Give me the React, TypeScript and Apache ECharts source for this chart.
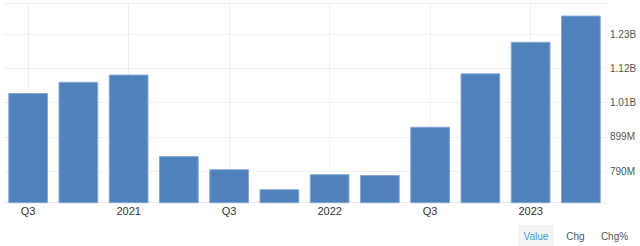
import React, { useEffect, useRef } from "react";
import * as echarts from "echarts";

const categories = ["Q3", "Q4", "2021", "Q2", "Q3", "Q4", "2022", "Q2", "Q3", "Q4", "2023", "Q2"];
const values = [1040, 1076, 1099, 838, 796, 732, 780, 777.5, 932, 1103, 1204, 1288];
const tickValues = [790, 899.5, 1009, 1118.5, 1228];
const tickLabels = ["790M", "899M", "1.01B", "1.12B", "1.23B"];
const buttons = ["Value", "Chg", "Chg%"];

export default function App() {
  const ref = useRef<HTMLDivElement>(null);
  useEffect(() => {
    if (!ref.current) return;
    const chart = echarts.init(ref.current, null, { renderer: "svg" });
    chart.setOption({
      animation: false,
      grid: { left: 3, right: 34, top: 3.5, bottom: 43.3, containLabel: false },
      xAxis: {
        type: "category",
        data: categories,
        boundaryGap: true,
        axisLine: { show: true, lineStyle: { color: "#e8e8e8" } },
        axisTick: { show: false },
        axisLabel: {
          interval: 1,
          color: "#333",
          fontSize: 11,
          fontFamily: "Liberation Sans, Arial, sans-serif",
          margin: 3,
        },
        splitLine: { show: true, interval: 1, alignWithLabel: true, lineStyle: { color: "#f0f0f0" } },
      },
      yAxis: {
        type: "value",
        position: "right",
        min: 688.8,
        max: 1326.6,
        axisLine: { show: false },
        axisTick: { show: false, customValues: [...tickValues, 1326.6] },
        axisLabel: {
          customValues: tickValues,
          color: "#555",
          fontSize: 10,
          fontFamily: "Liberation Sans, Arial, sans-serif",
          margin: 4,
          formatter: (v: number) => {
            const i = tickValues.findIndex((t) => Math.abs(t - v) < 0.01);
            return i >= 0 ? tickLabels[i] : "";
          },
        },
        splitLine: { show: true, lineStyle: { color: "#f0f0f0" } },
      },
      series: [
        {
          type: "bar",
          data: values,
          barCategoryGap: "21%",
          itemStyle: { color: "#4f81bd", borderColor: "#86a7d3", borderWidth: 1 },
        },
      ],
      graphic: [
        { type: "rect", shape: { x: 518, y: 225, width: 36, height: 21 }, style: { fill: "#f2f4f5" } },
        {
          type: "text", x: 536, y: 236,
          style: { text: buttons[0], fill: "#3d9be9", fontSize: 10, fontFamily: "Liberation Sans, Arial, sans-serif", align: "center", verticalAlign: "middle" },
        },
        {
          type: "text", x: 575.5, y: 236,
          style: { text: buttons[1], fill: "#555", fontSize: 10, fontFamily: "Liberation Sans, Arial, sans-serif", align: "center", verticalAlign: "middle" },
        },
        {
          type: "text", x: 614.5, y: 236,
          style: { text: buttons[2], fill: "#555", fontSize: 10, fontFamily: "Liberation Sans, Arial, sans-serif", align: "center", verticalAlign: "middle" },
        },
      ],
    });
    return () => chart.dispose();
  }, []);
  return (
    <div
      ref={ref}
      style={{ position: "absolute", left: 0, top: 0, width: 640, height: 246, background: "#fff" }}
    />
  );
}
